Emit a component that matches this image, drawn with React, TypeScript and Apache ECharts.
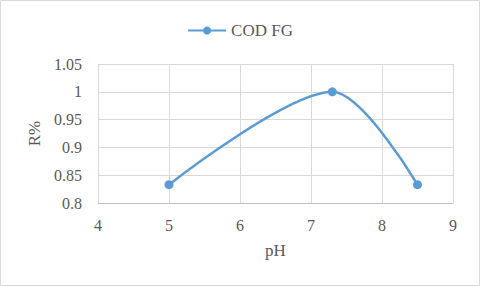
import React, { useEffect, useRef } from "react";
import * as echarts from "echarts";

const seriesName = "COD FG";
const phValues = [5, 7.3, 8.5];
const rValues = [0.833, 1.0, 0.833];
const xAxisTitle = "pH";
const yAxisTitle = "R%";

const FONT = "Liberation Serif";
const TXT = "#595959";
const GRID = "#d9d9d9";
const BLUE = "#5B9BD5";

export default function App() {
  const ref = useRef<HTMLDivElement>(null);
  useEffect(() => {
    document.body.style.margin = "0";
    const chart = echarts.init(ref.current!, null, { renderer: "svg" });
    chart.setOption({
      animation: false,
      backgroundColor: "#ffffff",
      textStyle: { fontFamily: FONT },
      legend: {
        top: 17,
        left: "center",
        itemWidth: 38,
        itemHeight: 10,
        itemGap: 6,
        textStyle: { fontFamily: FONT, fontSize: 17, color: TXT },
        data: [seriesName],
      },
      graphic: [
        {
          type: "rect",
          shape: { x: 0.5, y: 0.5, width: 479, height: 285 },
          style: { fill: "none", stroke: GRID, lineWidth: 1 },
          silent: true,
        },
      ],
      grid: { left: 98, right: 27, top: 64, bottom: 83 },
      xAxis: {
        type: "value",
        min: 4,
        max: 9,
        interval: 1,
        name: xAxisTitle,
        nameLocation: "middle",
        nameGap: 39,
        nameTextStyle: { fontFamily: FONT, fontSize: 17, color: TXT },
        axisLine: { show: true, lineStyle: { color: "#bfbfbf", width: 1 } },
        axisTick: { show: false },
        axisLabel: { fontFamily: FONT, fontSize: 16, color: TXT, margin: 14 },
        splitLine: { show: true, lineStyle: { color: GRID, width: 1 } },
      },
      yAxis: {
        type: "value",
        min: 0.8,
        max: 1.05,
        interval: 0.05,
        name: yAxisTitle,
        nameLocation: "middle",
        nameGap: 50,
        nameRotate: 90,
        nameTextStyle: { fontFamily: FONT, fontSize: 17, color: TXT },
        axisLine: { show: false },
        axisTick: { show: false },
        axisLabel: {
          fontFamily: FONT,
          fontSize: 16,
          color: TXT,
          margin: 16,
          formatter: (v: number) => String(parseFloat(v.toFixed(2))),
        },
        splitLine: { show: true, lineStyle: { color: GRID, width: 1 } },
      },
      series: [
        {
          name: seriesName,
          type: "line",
          smooth: 0.3,
          data: phValues.map((x, i) => [x, rValues[i]]),
          symbol: "circle",
          symbolSize: 9,
          itemStyle: { color: BLUE },
          lineStyle: { color: BLUE, width: 2.5 },
        },
      ],
    });
    return () => chart.dispose();
  }, []);
  return (
    <div
      ref={ref}
      style={{ position: "absolute", left: 0, top: 0, width: 480, height: 286 }}
    />
  );
}
